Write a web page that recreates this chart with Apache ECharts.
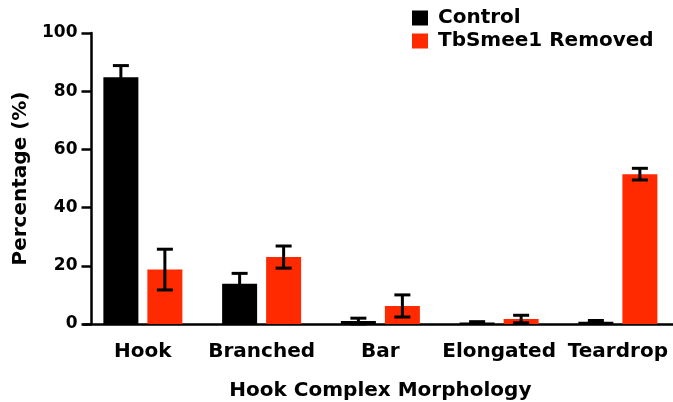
<!DOCTYPE html>
<html><head><meta charset="utf-8">
<script src="https://cdn.jsdelivr.net/npm/echarts@6/dist/echarts.min.js"></script>
<style>html,body{margin:0;padding:0;background:#fff}#c{width:673px;height:402px}</style>
</head><body><div id="c"></div>
<script>
var categories = ['Hook', 'Branched', 'Bar', 'Elongated', 'Teardrop'];
var controlValues = [84.8, 13.8, 1.0, 0.5, 0.8];
var controlErrors = [4.0, 3.6, 1.0, 0.3, 0.4];
var removedValues = [18.7, 23.0, 6.2, 1.7, 51.5];
var removedErrors = [7.0, 3.8, 3.8, 1.3, 2.0];
var yTicks = [0, 20, 40, 60, 80, 100];

var FONT = '"DejaVu Sans", sans-serif';
var BAR_W = 35, BAR_GAP = 9;
var OFF = (BAR_W + BAR_GAP) / 2;

function errSeries(name, vals, errs, sign) {
  return {
    type: 'custom', name: name + ' err', silent: true, z: 5,
    data: vals.map(function (v, i) { return [i, v - errs[i], v + errs[i]]; }),
    renderItem: function (params, api) {
      var lo = api.coord([api.value(0), api.value(1)]);
      var hi = api.coord([api.value(0), api.value(2)]);
      var x = lo[0] + sign * OFF;
      var cap = 8;
      var st = { stroke: '#000', lineWidth: 3 };
      return { type: 'group', children: [
        { type: 'line', shape: { x1: x, y1: lo[1], x2: x, y2: hi[1] }, style: st },
        { type: 'line', shape: { x1: x - cap, y1: lo[1], x2: x + cap, y2: lo[1] }, style: st },
        { type: 'line', shape: { x1: x - cap, y1: hi[1], x2: x + cap, y2: hi[1] }, style: st }
      ]};
    }
  };
}

var chart = echarts.init(document.getElementById('c'));
chart.setOption({
  animation: false,
  textStyle: { fontFamily: FONT },
  legend: {
    orient: 'vertical', left: 407, top: 3, itemGap: 3,
    icon: 'rect', itemWidth: 16, itemHeight: 15,
    data: ['Control', 'TbSmee1 Removed'],
    textStyle: { fontFamily: FONT, fontSize: 20, fontWeight: 'bold', color: '#000', padding: [0, 0, 0, 5] }
  },
  grid: { left: 83.5, top: 33, width: 593.75, height: 291, outerBoundsMode: 'none', containLabel: false },
  xAxis: {
    type: 'category', data: categories,
    name: 'Hook Complex Morphology', nameLocation: 'middle', nameGap: 57,
    nameTextStyle: { fontFamily: FONT, fontSize: 20, fontWeight: 'bold', color: '#000' },
    axisLine: { lineStyle: { color: '#000', width: 2.5 } },
    axisTick: { alignWithLabel: true, length: 10, lineStyle: { color: '#000', width: 2.5 } },
    axisLabel: { fontFamily: FONT, fontSize: 20, fontWeight: 'bold', color: '#000', margin: 18, interval: 0 }
  },
  yAxis: {
    type: 'value', min: 0, max: 100, interval: 20, offset: -8,
    name: 'Percentage (%)', nameLocation: 'middle', nameGap: 54, nameRotate: 90,
    nameTextStyle: { fontFamily: FONT, fontSize: 20, fontWeight: 'bold', color: '#000' },
    axisLine: { show: true, lineStyle: { color: '#000', width: 2.5 } },
    axisTick: { show: true, length: 10, lineStyle: { color: '#000', width: 2.5 } },
    splitLine: { show: false },
    axisLabel: { fontFamily: FONT, fontSize: 17, fontWeight: 'bold', color: '#000', margin: 14,
      formatter: function (v) { return yTicks.indexOf(v) >= 0 ? String(v) : ''; } }
  },
  series: [
    { type: 'bar', name: 'Control', data: controlValues, barWidth: BAR_W, barGap: (BAR_GAP / BAR_W * 100) + '%',
      itemStyle: { color: '#000' } },
    { type: 'bar', name: 'TbSmee1 Removed', data: removedValues, barWidth: BAR_W,
      itemStyle: { color: '#ff2a00' } },
    errSeries('Control', controlValues, controlErrors, -1),
    errSeries('TbSmee1 Removed', removedValues, removedErrors, 1)
  ]
});
</script></body></html>
